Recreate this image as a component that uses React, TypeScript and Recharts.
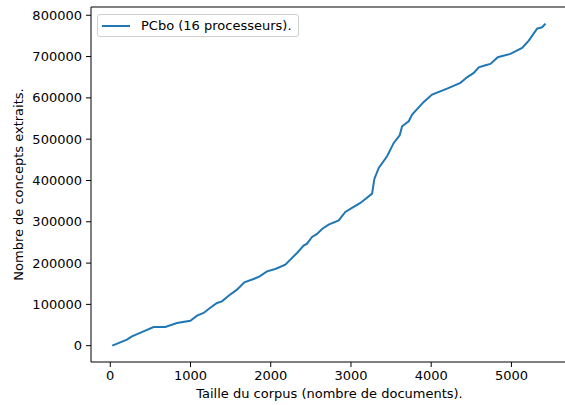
import React from "react";
import {
  LineChart,
  Line,
  XAxis,
  YAxis,
  Legend,
  ReferenceLine,
  Label,
} from "recharts";

// corpus size (number of documents)
const docs = [
  25, 208, 270, 415, 540, 686, 831, 998, 1081, 1164, 1226, 1330, 1392, 1475,
  1579, 1671, 1787, 1862, 1954, 2057, 2182, 2244, 2328, 2410, 2452, 2515,
  2577, 2640, 2722, 2847, 2930, 3013, 3117, 3180, 3263, 3292, 3346, 3450,
  3533, 3575, 3608, 3637, 3720, 3762, 3907, 4011, 4198, 4364, 4447, 4530,
  4593, 4676, 4738, 4830, 4988, 5133, 5216, 5320, 5383, 5424,
];

// number of extracted concepts
const concepts = [
  0, 14500, 22500, 34600, 45300, 45300, 55000, 60500, 72700, 79200, 88900,
  103400, 107300, 121100, 135600, 153300, 161500, 167800, 180000, 185700,
  196200, 208300, 224500, 242200, 247000, 263200, 270500, 282600, 293100,
  303500, 323800, 333500, 345600, 355300, 368100, 403700, 430400, 458500,
  490900, 501400, 509400, 531200, 543300, 559500, 590200, 607900, 622500,
  636300, 649800, 660500, 674100, 678900, 682300, 698300, 706500, 721000,
  738700, 767800, 771000, 779900,
];

const xTicks = [0, 1000, 2000, 3000, 4000, 5000];
const yTicks = [0, 100000, 200000, 300000, 400000, 500000, 600000, 700000, 800000];

const seriesName = "PCbo (16 processeurs).";
const lineColor = "#1f77b4";
const font = "DejaVu Sans";

const data = docs.map((x, i) => ({ x, y: concepts[i] }));

function LegendBox() {
  return (
    <div
      style={{
        display: "flex",
        alignItems: "center",
        border: "1px solid #d0d0d0",
        borderRadius: 3,
        background: "rgba(255,255,255,0.8)",
        padding: "3px 6px 3px 4px",
        fontFamily: font,
        fontSize: 13,
        color: "#000",
        whiteSpace: "nowrap",
      }}
    >
      <svg width={28} height={10} style={{ marginRight: 11 }}>
        <line x1={0} y1={5} x2={28} y2={5} stroke={lineColor} strokeWidth={2} />
      </svg>
      <span>{seriesName}</span>
    </div>
  );
}

export default function App() {
  const tickStyle = { fill: "#000", fontSize: 13, fontFamily: font };
  return (
    <div
      style={{
        position: "fixed",
        left: 0,
        top: 0,
        width: 565,
        height: 405,
        overflow: "hidden",
        background: "#fff",
      }}
    >
      <LineChart
        width={568}
        height={405}
        data={data}
        margin={{ top: 7, right: 0, bottom: 0, left: 0 }}
      >
        <XAxis
          type="number"
          dataKey="x"
          domain={[-240, 5705]}
          allowDataOverflow
          ticks={xTicks}
          height={43}
          tickSize={5}
          tickMargin={4}
          tick={tickStyle}
          tickLine={{ stroke: "#000" }}
          axisLine={{ stroke: "#000" }}
        >
          <Label
            value="Taille du corpus (nombre de documents)."
            position="center"
            dy={10}
            style={{ fill: "#000", fontSize: 13, fontFamily: font }}
          />
        </XAxis>
        <YAxis
          type="number"
          domain={[-39500, 820000]}
          allowDataOverflow
          ticks={yTicks}
          width={91}
          tickSize={5}
          tickMargin={4}
          tick={tickStyle}
          tickLine={{ stroke: "#000" }}
          axisLine={{ stroke: "#000" }}
        >
          <Label
            value="Nombre de concepts extraits."
            position="center"
            angle={-90}
            dx={-27}
            style={{ fill: "#000", fontSize: 13, fontFamily: font, textAnchor: "middle" }}
          />
        </YAxis>
        <ReferenceLine y={820000} stroke="#000" strokeWidth={1} />
        <Legend
          layout="horizontal"
          verticalAlign="middle"
          wrapperStyle={{ left: 97, top: 14, width: "auto" }}
          content={() => <LegendBox />}
        />
        <Line
          type="linear"
          dataKey="y"
          name={seriesName}
          stroke={lineColor}
          strokeWidth={2}
          dot={false}
          isAnimationActive={false}
        />
      </LineChart>
    </div>
  );
}
